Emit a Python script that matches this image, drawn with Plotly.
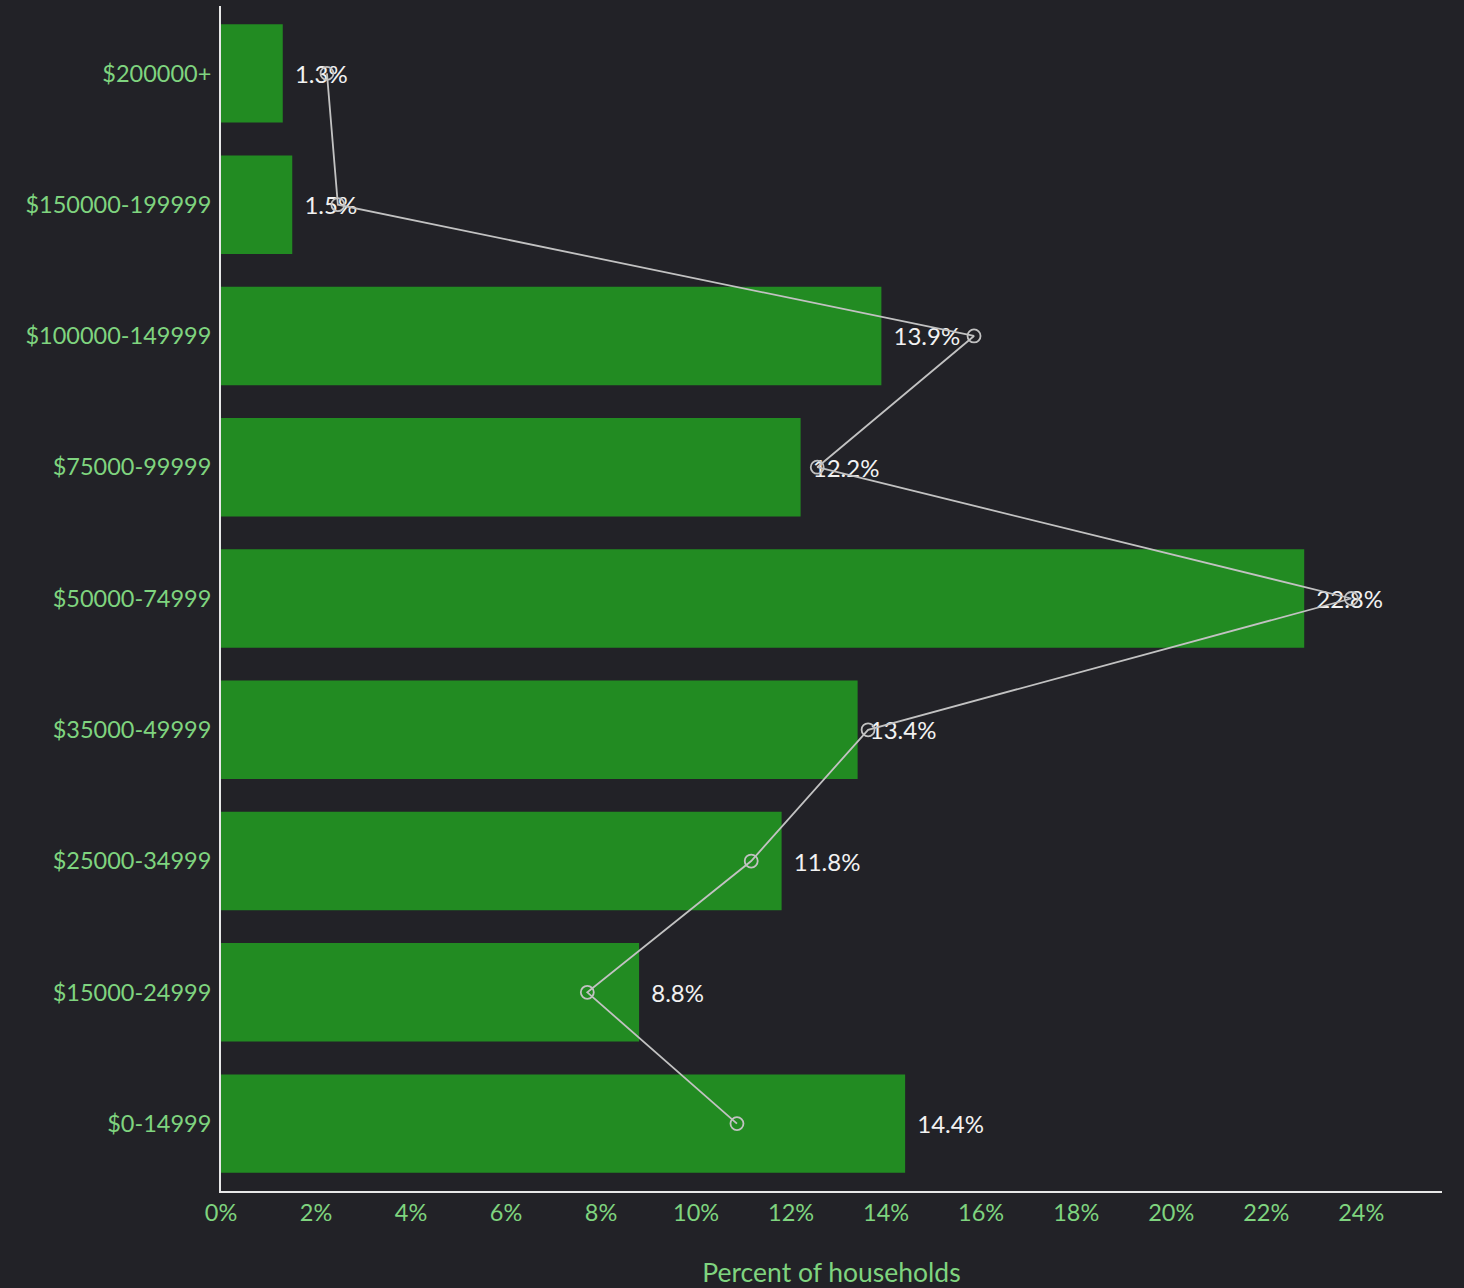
import plotly.graph_objects as go

categories = ["$0-14999", "$15000-24999", "$25000-34999", "$35000-49999",
              "$50000-74999", "$75000-99999", "$100000-149999",
              "$150000-199999", "$200000+"]
households_pct = [14.4, 8.8, 11.8, 13.4, 22.8, 12.2, 13.9, 1.5, 1.3]
comparison_pct = [10.86, 7.71, 11.16, 13.62, 23.79, 12.55, 15.85, 2.46, 2.23]
x_ticks = list(range(0, 26, 2))
x_tick_labels = [f"{t}%" for t in x_ticks]

bg = "#222227"
green_text = "#7fd47f"
font_family = "Lato, 'Open Sans', sans-serif"

fig = go.Figure()
fig.add_trace(go.Bar(
    y=categories, x=households_pct, orientation="h",
    marker=dict(color="#228b22", line=dict(width=0)),
    text=["\u00a0\u2009" + f"{v}%" for v in households_pct],
    textposition="outside",
    textfont=dict(color="#f2f2f2", size=24, family=font_family),
    cliponaxis=False,
    showlegend=False,
))
fig.add_trace(go.Scatter(
    y=categories, x=comparison_pct, mode="lines+markers",
    line=dict(color="#c2c2c2", width=1.8),
    marker=dict(symbol="circle-open", size=13, color="#c2c2c2",
                line=dict(width=1.8, color="#c2c2c2")),
    cliponaxis=False,
    showlegend=False,
))

fig.update_layout(
    width=1464, height=1288,
    paper_bgcolor=bg, plot_bgcolor=bg,
    margin=dict(l=221, r=22, t=6, b=97),
    bargap=0.25,
    font=dict(family=font_family, color=green_text, size=23.5),
    xaxis=dict(
        range=[0, 25.7],
        tickvals=x_ticks, ticktext=x_tick_labels,
        showgrid=False, zeroline=False,
        showline=True, linecolor="#e8e8e8", linewidth=2,
        ticks="", tickfont=dict(color=green_text, size=23.5),
        title=dict(text="Percent of households", font=dict(color=green_text, size=26.5),
                   standoff=38),
    ),
    yaxis=dict(
        categoryorder="array", categoryarray=categories,
        showgrid=False, zeroline=False,
        showline=True, linecolor="#e8e8e8", linewidth=2,
        ticks="", ticklabelstandoff=3,
        tickfont=dict(color=green_text, size=23.5),
    ),
)

fig.write_html("out.html", config={"displayModeBar": False})

with open("out.html", "r", encoding="utf-8") as f:
    html = f.read()
html = html.replace("<head>", "<head><style>html,body{margin:0;padding:0;background:%s;}</style>" % bg, 1)
with open("out.html", "w", encoding="utf-8") as f:
    f.write(html)
